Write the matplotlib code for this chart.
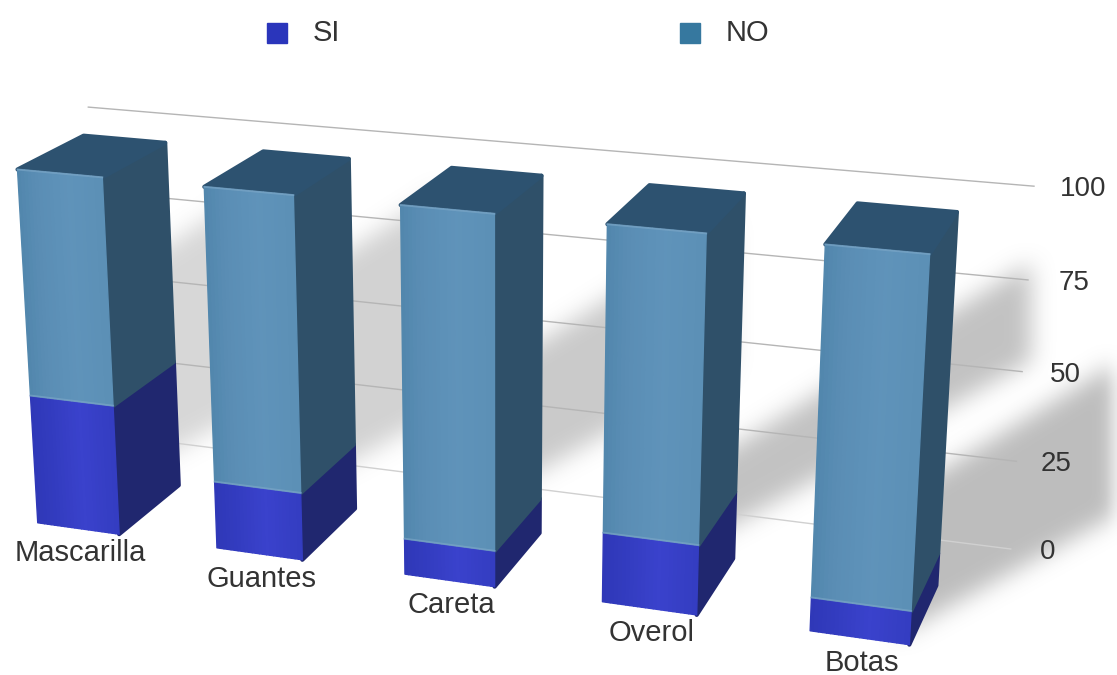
# -*- encoding: utf-8 -*-
import numpy as np
import matplotlib
matplotlib.use('Agg')
import matplotlib.pyplot as plt
from matplotlib.path import Path

plt.rcParams['font.family'] = ['Liberation Sans', 'DejaVu Sans']

# datos
categorias = ['Mascarilla', 'Guantes', 'Careta', 'Overol', 'Botas']
si = [37, 19, 10, 19, 9]
no = [63, 81, 90, 81, 91]
ticks = [0, 25, 50, 75, 100]

W = 1117
H = 675
W_BAR = 0.23   # media anchura de barra
Z_WALL = 1.8

# calibracion de la perspectiva: (x, valor, z) -> pixel
CAL_WORLD = np.array([
    [0 - W_BAR, 100, 0], [0 - W_BAR, 0, 0], [0 + W_BAR, 100, 0], [0 + W_BAR, 0, 0],
    [0 + W_BAR, 100, 1], [0 + W_BAR, 0, 1],
    [2 - W_BAR, 100, 0], [2 - W_BAR, 0, 0], [2 + W_BAR, 100, 1], [2 + W_BAR, 0, 1],
    [4 - W_BAR, 100, 0], [4 - W_BAR, 0, 0], [4 + W_BAR, 100, 0], [4 + W_BAR, 0, 0],
    [4 + W_BAR, 100, 1], [4 + W_BAR, 0, 1],
], dtype=float)
CAL_PX = np.array([
    [17, 170], [36, 520], [103, 180], [118, 533],
    [165, 143], [181, 483],
    [401, 205], [406, 576], [541, 173], [540, 540],
    [826, 245], [810, 630], [930, 255], [910, 643],
    [956, 210], [935, 585],
], dtype=float)

# sombras: desde la base trasera, (arriba, abajo, largo, intensidad)
SOMBRAS = [(-253, -38, 90, 0.6), (-267, -50, 90, 0.68), (-197, -63, 190, 0.8),
           (-118, -34, 297, 0.92), (-118, 28, 420, 1.0)]


def fit_camera(world, px):
    rows = []
    rhs = []
    for (x, y, z), (u, v) in zip(world, px):
        rows.append([x, y, z, 1, 0, 0, 0, 0, -u * x, -u * y, -u * z])
        rows.append([0, 0, 0, 0, x, y, z, 1, -v * x, -v * y, -v * z])
        rhs += [u, v]
    sol = np.linalg.lstsq(np.array(rows), np.array(rhs), rcond=None)[0]
    return np.append(sol, 1).reshape(3, 4)


CAM = fit_camera(CAL_WORLD, CAL_PX)


def project(x, y, z):
    p = CAM @ np.array([x, y, z, 1.0])
    return p[0] / p[2], p[1] / p[2]


def hexrgb(c):
    return np.array(matplotlib.colors.to_rgb(c))


def face(ax, pts, color, lw=1.5, zorder=3):
    xs, ys = zip(*pts)
    ax.fill(xs, ys, color=color, lw=lw, joinstyle='round', zorder=zorder)


def front(ax, i, v0, v1, stops):
    # cara frontal en tiras para el degradado
    edges = np.linspace(i - W_BAR, i + W_BAR, 25)
    t = np.linspace(0, 1, 24)
    c = [np.interp(t, [0, 0.2, 0.6, 1], [hexrgb(s)[k] for s in stops]) for k in range(3)]
    for j in range(24):
        pts = [project(edges[j], v1, 0), project(edges[j + 1], v1, 0),
               project(edges[j + 1], v0, 0), project(edges[j], v0, 0)]
        face(ax, pts, (c[0][j], c[1][j], c[2][j]), lw=1.0)


def side(ax, i, v0, v1, color):
    pts = [project(i + W_BAR, v1, 0), project(i + W_BAR, v1, 1),
           project(i + W_BAR, v0, 1), project(i + W_BAR, v0, 0)]
    face(ax, pts, color, lw=3)


def shadow_layer():
    # sombras difusas de cada barra sobre el fondo
    step = 2
    gx, gy = np.meshgrid(np.arange(0, W, step), np.arange(0, H, step))
    grid = np.column_stack([gx.ravel(), gy.ravel()])
    total = np.zeros(gx.shape)
    for i, (up, down, length, strength) in enumerate(SOMBRAS):
        base = np.array(project(i + W_BAR, 0, 1))
        a = base + [-40, up + 30]
        b = base + [-40, down + 22]
        top_end = base + [length, up - 0.6 * length]
        low_end = base + [length, down - 0.55 * length]
        mask = Path([a, top_end, low_end, b]).contains_points(grid).reshape(gx.shape)
        total = np.maximum(total, mask * strength)
    kernel = np.ones(11) / 11
    for _ in range(3):
        total = np.apply_along_axis(lambda r: np.convolve(r, kernel, mode='same'), 0, total)
        total = np.apply_along_axis(lambda r: np.convolve(r, kernel, mode='same'), 1, total)
    rgba = np.zeros(gx.shape + (4,))
    rgba[..., :3] = 0.62
    rgba[..., 3] = np.clip(total, 0, 1) * 0.68
    return rgba


fig = plt.figure(figsize=(W / 100, H / 100), dpi=100)
ax = fig.add_axes([0, 0, 1, 1])
ax.set_xlim(0, W)
ax.set_ylim(H, 0)
ax.axis('off')

ax.imshow(shadow_layer(), extent=(0, W, H, 0), interpolation='bilinear', aspect='auto', zorder=1)

# lineas de la escala
for t in ticks:
    x0, y0 = project(-0.49, t, Z_WALL)
    x1, y1 = project(4.5, t, Z_WALL)
    ax.plot([x0, x1], [y0, y1], color='#b5b5b5' if t > 0 else '#d0d0d0', lw=1.0, zorder=2)
    ax.text(x1 + 37 + 0.12 * t, y1 + 3, str(t), fontsize=20, color='#333333', ha='center', va='center', zorder=5)

# barras
for i, (nombre, s, n) in enumerate(zip(categorias, si, no)):
    top = s + n
    side(ax, i, 0, s, '#20276f')
    side(ax, i, s, top, '#2f5069')
    face(ax, [project(i - W_BAR, top, 0), project(i + W_BAR, top, 0),
              project(i + W_BAR, top, 1), project(i - W_BAR, top, 1)], '#2d5270', lw=3)
    front(ax, i, 0, s, ['#2f38b8', '#323bbe', '#3a42cc', '#343dc2'])
    front(ax, i, s, top, ['#5287ad', '#5a8db4', '#5f93ba', '#5c90b6'])
    # brillo en el borde superior y en la union de colores
    for v in (s, top):
        xa, ya = project(i - W_BAR, v, 0)
        xb, yb = project(i + W_BAR, v, 0)
        ax.plot([xa, xb], [ya, yb], color='#7fa9c9', lw=1.4, alpha=0.6, zorder=4)
    px, py = project(i, 0, 0)
    ax.text(px + 2, py + 25, nombre, fontsize=21, color='#333333', ha='center', va='center', zorder=5)

# leyenda
for lx, tx, color, name in [(277, 313, '#2a35bb', 'SI'), (690, 726, '#36789f', 'NO')]:
    ax.add_patch(plt.Rectangle((lx - 10, 23), 20, 20, color=color, zorder=5))
    ax.text(tx, 33, name, fontsize=21, color='#333333', ha='left', va='center', zorder=5)

plt.savefig('out.png', dpi=100)
